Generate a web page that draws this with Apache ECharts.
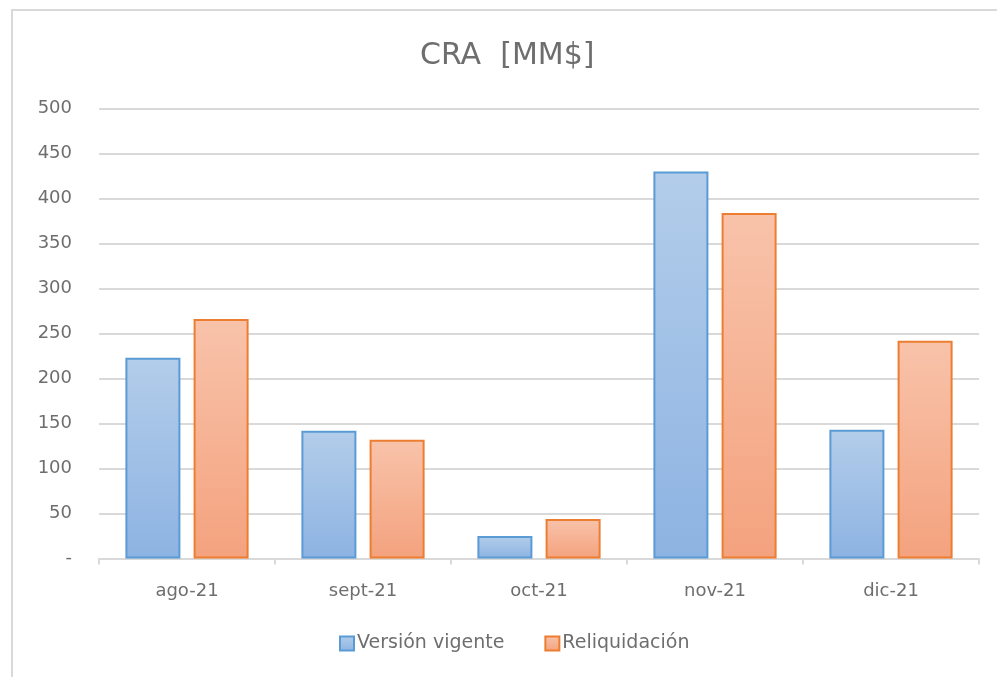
<!DOCTYPE html>
<html>
<head>
<meta charset="utf-8">
<script src="https://cdn.jsdelivr.net/npm/echarts@6/dist/echarts.min.js"></script>
<style>
  html, body { margin: 0; padding: 0; background: #fff; }
  #chart { width: 997px; height: 677px; }
</style>
</head>
<body>
<div id="chart"></div>
<script>
var categories = ['ago-21', 'sept-21', 'oct-21', 'nov-21', 'dic-21']
var versionVigente = [223, 142, 25, 430, 143]
var reliquidacion = [266, 132, 44, 384, 242]
var seriesNames = ['Versión vigente', 'Reliquidación']

var font = 'DejaVu Sans'
var textColor = '#6e6e6e'

function grad(top, bottom) {
  return new echarts.graphic.LinearGradient(0, 0, 0, 1, [
    { offset: 0, color: top },
    { offset: 1, color: bottom }
  ])
}

var chart = echarts.init(document.getElementById('chart'))
chart.setOption({
  animation: false,
  backgroundColor: '#fff',
  title: {
    text: 'CRA  [MM$]',
    left: 415,
    top: 36,
    textStyle: { fontFamily: font, fontSize: 30, fontWeight: 'normal', color: textColor }
  },
  graphic: [{
    type: 'polyline',
    shape: { points: [[12, 677], [12, 10], [997, 10]] },
    style: { stroke: '#d9d9d9', lineWidth: 2, fill: null }
  }],
  grid: { left: 99, right: 18, top: 108.5, bottom: 118.5 },
  legend: {
    data: seriesNames,
    bottom: 19,
    left: 334,
    icon: 'rect',
    itemWidth: 14,
    itemHeight: 14,
    itemGap: 40,
    textStyle: { fontFamily: font, fontSize: 19, color: textColor, padding: [0, 0, 0, -2] }
  },
  xAxis: {
    type: 'category',
    data: categories,
    axisLine: { lineStyle: { color: '#d9d9d9', width: 2 } },
    axisTick: { show: true, length: 6, lineStyle: { color: '#d9d9d9', width: 2 } },
    axisLabel: { fontFamily: font, fontSize: 18, color: textColor, margin: 24 }
  },
  yAxis: {
    type: 'value',
    min: 0,
    max: 500,
    interval: 50,
    axisLine: { show: false },
    axisTick: { show: false },
    splitLine: { lineStyle: { color: '#d9d9d9', width: 2 } },
    axisLabel: {
      fontFamily: font, fontSize: 18, color: textColor, margin: 27,
      formatter: function (v) { return v === 0 ? '-' : String(v) }
    }
  },
  series: [{
    name: seriesNames[0],
    type: 'bar',
    data: versionVigente,
    barWidth: 55,
    barGap: '24%',
    itemStyle: { color: grad('#b3cdea', '#8db3e2'), borderColor: '#5b9bd5', borderWidth: 2 }
  }, {
    name: seriesNames[1],
    type: 'bar',
    data: reliquidacion,
    barWidth: 55,
    itemStyle: { color: grad('#f8c3aa', '#f4a27e'), borderColor: '#ed7d31', borderWidth: 2 }
  }]
})
</script>
</body>
</html>
